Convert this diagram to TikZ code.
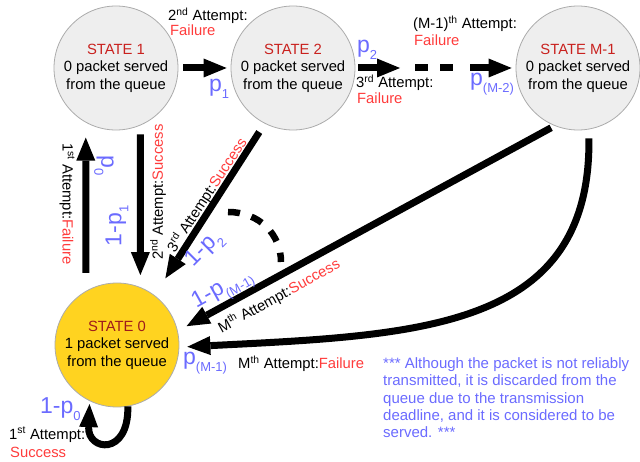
\documentclass[tikz,border=0pt]{standalone}
\usepackage{fontspec}
\setmainfont{Liberation Sans}
\usetikzlibrary{arrows.meta}

\definecolor{stategray}{HTML}{EEEEEE}
\definecolor{stateedge}{HTML}{ABABAB}
\definecolor{gold}{HTML}{FFD320}
\definecolor{statered}{HTML}{C9211E}
\definecolor{zerored}{HTML}{9E1B1B}
\definecolor{fail}{HTML}{FF3B3B}
\definecolor{prob}{HTML}{6B6BFF}

% probability symbol with a lowered subscript
\newcommand{\prb}[1]{p\raisebox{-7pt}{\fontsize{13}{13}\selectfont #1}}

\tikzset{
  state/.style={circle, draw=stateedge, line width=0.8pt, fill=stategray,
    minimum size=124pt, inner sep=0pt, align=center,
    font=\fontsize{14.8}{17.5}\selectfont},
  bigarrow/.style={line width=7pt,
    -{Triangle[length=23pt,width=19pt,line width=0pt]}},
  dashbar/.style={line width=7pt, dash pattern=on 13pt off 12pt},
  lbl/.style={font=\fontsize{14.8}{16}\selectfont, inner sep=0pt},
  plbl/.style={text=prob, font=\fontsize{23}{23}\selectfont, inner sep=0pt},
  notetext/.style={text=prob, font=\fontsize{15}{17.3}\selectfont,
    inner sep=0pt, align=left}
}

\begin{document}
\begin{tikzpicture}[x=1pt,y=-1pt]
\useasboundingbox (0,0) rectangle (640,462);

% states
\node[state] (s1) at (116,68) {\textcolor{statered}{STATE 1}\\0 packet served\\from the queue};
\node[state] (s2) at (293,68) {\textcolor{statered}{STATE 2}\\0 packet served\\from the queue};
\node[state] (sm) at (578,68) {\textcolor{statered}{STATE M-1}\\0 packet served\\from the queue};
\node[state, fill=gold] (s0) at (117,345) {\textcolor{zerored}{STATE 0}\\1 packet served\\from the queue};

% failure chain along the top
\coordinate (c2) at (400,68);
\coordinate (d1) at (415,68);
\coordinate (d2) at (453,68);
\coordinate (c3) at (470,68);
\draw[bigarrow, shorten <=5pt, shorten >=4pt] (s1) -- (s2);
\draw[bigarrow, shorten <=3pt] (s2) -- (c2);
\draw[dashbar] (d1) -- (d2);
\draw[bigarrow, shorten >=4pt] (c3) -- (sm);

% returns to state 0 and first attempt failure
\draw[bigarrow, shorten <=18pt, shorten >=15pt] (s0.120) -- (s1.241);
\draw[bigarrow, shorten <=9pt, shorten >=12pt] (s1.293) -- (s0.68);
\draw[bigarrow, shorten <=10pt, shorten >=20pt] (s2.243) -- (s0.53);
\draw[bigarrow, shorten <=4pt, shorten >=10pt] (sm.248) -- (s0.13);
\draw[bigarrow, shorten <=9pt, shorten >=8pt] (sm.280) .. controls (591,330) and (420,335) .. (s0.358);
\draw[bigarrow, shorten >=3pt] (s0.280) .. controls +(1,50) and +(-2,50) .. (s0.244);

% omitted intermediate transitions
\coordinate (a1) at (228,212);
\coordinate (a2) at (281,262);
\draw[dashbar, line width=6.5pt, dash pattern=on 12pt off 12pt] (a1) .. controls (260,212) and (281,235) .. (a2);

% labels of the top row
\node[lbl, anchor=base west] (l12) at (168,21) {2\textsuperscript{nd} Attempt:};
\node[lbl, anchor=base west, text=fail] (l12f) at (170,35.5) {Failure};
\node[plbl, anchor=base west] (p1) at (209,92) {\prb{1}};
\node[plbl, anchor=base west] (p2) at (357,53) {\prb{2}};
\node[lbl, anchor=base west] (l23) at (356,88) {3\textsuperscript{rd} Attempt:};
\node[lbl, anchor=base west, text=fail] (l23f) at (357,104) {Failure};
\node[lbl, anchor=base west] (lmm) at (413,29) {(M-1)\textsuperscript{th} Attempt:};
\node[lbl, anchor=base west, text=fail] (lmmf) at (414,45.5) {Failure};
\node[plbl, anchor=base west] (pm2) at (470,86) {\prb{(M-2)}};

% labels of the returning transitions
\node[lbl, rotate=-90] (l01) at (67,204) {1\textsuperscript{st} Attempt:\textcolor{fail}{Failure}};
\node[plbl, rotate=-90] (p0) at (104,166) {\prb{0}};
\node[plbl, rotate=90] (q1) at (117,226) {1-\prb{1}};
\node[lbl, rotate=90] (l10) at (158,192) {2\textsuperscript{nd} Attempt:\textcolor{fail}{Success}};
\node[lbl, rotate=57] (l20) at (207,195) {3\textsuperscript{rd} Attempt:\textcolor{fail}{Success}};
\node[plbl, rotate=45] (q2) at (205,250) {1-\prb{2}};
\node[plbl, rotate=29] (qm1) at (223,290) {1-\prb{(M-1)}};
\node[lbl, rotate=29] (lm0) at (279,296) {M\textsuperscript{th} Attempt:\textcolor{fail}{Success}};
\node[plbl, anchor=base west] (pm1) at (183,364) {\prb{(M-1)}};
\node[lbl, anchor=base west] (lmf) at (238,368.5) {M\textsuperscript{th} Attempt:\textcolor{fail}{Failure}};

% self loop labels
\node[plbl, anchor=base west] (q0) at (40,413) {1-\prb{0}};
\node[lbl, anchor=base west] (l00) at (9,439) {1\textsuperscript{st} Attempt:};
\node[lbl, anchor=base west, text=fail] (l00s) at (10,457) {Success};

% remark
\node[notetext, anchor=north west] (note) at (383,357.5) {*** Although the packet is not reliably\\transmitted, it is discarded from the\\queue due to the transmission\\deadline, and it is considered to be\\served. ***};
\end{tikzpicture}
\end{document}
